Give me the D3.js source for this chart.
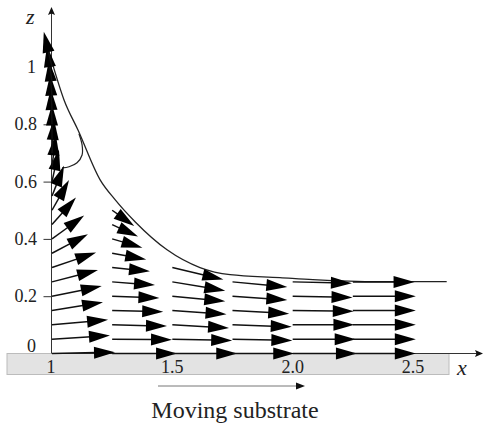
<!DOCTYPE html>
<html>
<head>
<meta charset="utf-8">
<script src="https://cdn.jsdelivr.net/npm/d3@7"></script>
<style>
  html, body { margin: 0; padding: 0; background: #fff; }
  #chart { width: 484px; height: 427px; }
  text { font-family: "Liberation Serif", "Times New Roman", serif; fill: #222; }
</style>
</head>
<body>
<div id="chart"></div>
<script>
/**
 * Velocity field of a film dragged by a moving substrate
 */

// arrow columns (x of the base) and rows (z of the base)
const COLUMN_X = [1, 1.25, 1.5, 1.75, 2.0, 2.25];
const ROW_Z = [0, 0.05, 0.1, 0.15, 0.2, 0.25, 0.3, 0.35, 0.4, 0.45, 0.5,
               0.55, 0.6, 0.65, 0.7, 0.75, 0.8, 0.85, 0.9, 0.95, 1.0];

// horizontal velocity u, one list per column, bottom row first
const U = [
    [1.00, 0.92, 0.89, 0.81, 0.79, 0.73, 0.70, 0.57, 0.51, 0.38, 0.27, 0.19, 0.11, 0.06, 0.03, 0.00, -0.02, -0.03, -0.05, -0.08, -0.13],
    [1.03, 0.95, 0.87, 0.81, 0.75, 0.68, 0.60, 0.54, 0.48, 0.41, 0.35],
    [1.03, 0.95, 0.90, 0.86, 0.84, 0.84, 0.81],
    [0.98, 0.95, 0.94, 0.90, 0.87, 0.87],
    [1.02, 1.00, 0.98, 0.97, 0.95, 0.94],
    [1.00, 1.00, 1.00, 1.00, 1.00, 0.98]
];

// vertical velocity w
const W = [
    [0.02, 0.06, 0.08, 0.13, 0.16, 0.19, 0.24, 0.30, 0.37, 0.43, 0.48, 0.48, 0.51, 0.52, 0.54, 0.54, 0.56, 0.56, 0.56, 0.56, 0.56],
    [0.00, -0.01, -0.02, -0.02, -0.03, -0.05, -0.06, -0.10, -0.14, -0.19, -0.25],
    [0.00, -0.02, -0.05, -0.06, -0.08, -0.14, -0.19],
    [0.00, -0.02, -0.03, -0.05, -0.06, -0.08],
    [0.00, 0.00, 0.00, -0.01, -0.02, -0.02],
    [0.00, 0.00, 0.00, 0.00, 0.00, 0.00]
];

// free surface h(x)
const SURFACE_X = [1.0, 1.05, 1.108, 1.2, 1.262, 1.345, 1.478, 1.615, 1.74, 1.947, 2.084, 2.36, 2.64];
const SURFACE_Z = [1.017, 0.885, 0.780, 0.606, 0.537, 0.460, 0.362, 0.300, 0.275, 0.265, 0.258, 0.251, 0.251];

// dividing streamline near the top of the film
const LOOP_X = [1.112, 1.125, 1.125, 1.104, 1.071, 1.042];
const LOOP_Z = [0.767, 0.728, 0.693, 0.666, 0.652, 0.648];

const Z_TICKS = [0.2, 0.4, 0.6, 0.8];
const Z_LABELS = [0, 0.2, 0.4, 0.6, 0.8, 1];
const X_LABELS = [1, 1.5, 2.0, 2.5];
const X_LABEL_TEXT = ["1", "1.5", "2.0", "2.5"];

const createFlowChart = () => {
    const width = 484;
    const height = 427;

    const svg = d3.select("#chart").append("svg")
        .attr("width", width)
        .attr("height", height);

    const x = d3.scaleLinear().domain([1, 2.5]).range([52, 413]);
    const z = d3.scaleLinear().domain([0, 1]).range([353.5, 67]);
    const speed = d3.scaleLinear().domain([0, 1]).range([0, 63]);

    // substrate
    svg.append("rect")
        .attr("x", 7).attr("y", z(0))
        .attr("width", 442).attr("height", 21)
        .attr("fill", "#e3e3e3")
        .attr("stroke", "#bcbcbc");

    const axisColor = "#333";
    // x axis
    svg.append("line")
        .attr("x1", x(1)).attr("x2", 478)
        .attr("y1", z(0)).attr("y2", z(0))
        .attr("stroke", axisColor).attr("stroke-width", 1);
    svg.append("path")
        .attr("d", `M483,${z(0)} L475,${z(0) - 3.5} L476.5,${z(0)} L475,${z(0) + 3.5} Z`)
        .attr("fill", "#111");

    // z axis
    svg.append("line")
        .attr("x1", x(1) - 0.5).attr("x2", x(1) - 0.5)
        .attr("y1", z(0)).attr("y2", 12)
        .attr("stroke", axisColor).attr("stroke-width", 1);
    svg.append("path")
        .attr("d", `M${x(1) - 0.5},7 L${x(1) - 4},15 L${x(1) - 0.5},13.5 L${x(1) + 3},15 Z`)
        .attr("fill", "#111");

    const zAxis = d3.axisLeft(z).tickValues(Z_TICKS).tickSize(8).tickFormat("");
    const zg = svg.append("g")
        .attr("transform", `translate(${x(1) - 0.5},0)`)
        .call(zAxis);
    zg.select(".domain").remove();
    zg.selectAll(".tick line").attr("stroke", axisColor);

    svg.selectAll(".z-label")
        .data(Z_LABELS)
        .join("text")
        .attr("class", "z-label")
        .attr("x", d => (d === 0 || d === 1) ? 36 : 37)
        .attr("y", d => d === 0 ? z(d) - 2 : z(d) + 6)
        .attr("text-anchor", "end")
        .attr("font-size", 18)
        .text(d => d);

    svg.selectAll(".x-label")
        .data(X_LABELS)
        .join("text")
        .attr("class", "x-label")
        .attr("x", d => d === 1 ? x(d) - 1 : x(d))
        .attr("y", 373)
        .attr("text-anchor", "middle")
        .attr("font-size", 18)
        .text((d, i) => X_LABEL_TEXT[i]);

    svg.append("text")
        .attr("x", 26).attr("y", 24)
        .attr("font-size", 22).attr("font-style", "italic")
        .text("z");
    svg.append("text")
        .attr("x", 457).attr("y", 375)
        .attr("font-size", 22).attr("font-style", "italic")
        .text("x");

    // free surface
    const line = d3.line().x(d => x(d[0])).y(d => z(d[1])).curve(d3.curveMonotoneX);
    svg.append("path")
        .attr("d", line(d3.zip(SURFACE_X, SURFACE_Z)))
        .attr("fill", "none")
        .attr("stroke", "#222")
        .attr("stroke-width", 1.3);

    const loopLine = d3.line().x(d => x(d[0])).y(d => z(d[1])).curve(d3.curveCatmullRom);
    svg.append("path")
        .attr("d", loopLine(d3.zip(LOOP_X, LOOP_Z)))
        .attr("fill", "none")
        .attr("stroke", "#222")
        .attr("stroke-width", 1.2);

    // velocity arrows
    const arrows = [];
    COLUMN_X.forEach((cx, c) => {
        U[c].forEach((u, r) => {
            arrows.push({ x0: cx, z0: ROW_Z[r], u, w: W[c][r] });
        });
    });

    const headLen = 21;
    const headHalf = 6;
    const g = svg.append("g");
    arrows.forEach(a => {
        const bx = x(a.x0);
        const by = z(a.z0);
        const tx = bx + speed(a.u);
        const ty = by - speed(a.w);
        const len = Math.hypot(tx - bx, ty - by);
        const ux = (tx - bx) / len;
        const uy = (ty - by) / len;
        const hx = tx - ux * headLen;
        const hy = ty - uy * headLen;
        g.append("line")
            .attr("x1", bx).attr("y1", by)
            .attr("x2", hx + ux * 2).attr("y2", hy + uy * 2)
            .attr("stroke", "#111")
            .attr("stroke-width", 1.5);
        g.append("path")
            .attr("d", `M${tx},${ty} L${hx - uy * headHalf},${hy + ux * headHalf} L${hx + uy * headHalf},${hy - ux * headHalf} Z`)
            .attr("fill", "#000");
    });

    // moving substrate
    svg.append("line")
        .attr("x1", 158).attr("x2", 298)
        .attr("y1", 386).attr("y2", 386)
        .attr("stroke", "#777").attr("stroke-width", 1);
    svg.append("path")
        .attr("d", "M305,386 L296,382.5 L296,389.5 Z")
        .attr("fill", "#111");
    svg.append("text")
        .attr("x", 235).attr("y", 418)
        .attr("text-anchor", "middle")
        .attr("font-size", 24)
        .text("Moving substrate");
};

window.addEventListener("DOMContentLoaded", () => {
    createFlowChart();
}, {once: true});
</script>
</body>
</html>
